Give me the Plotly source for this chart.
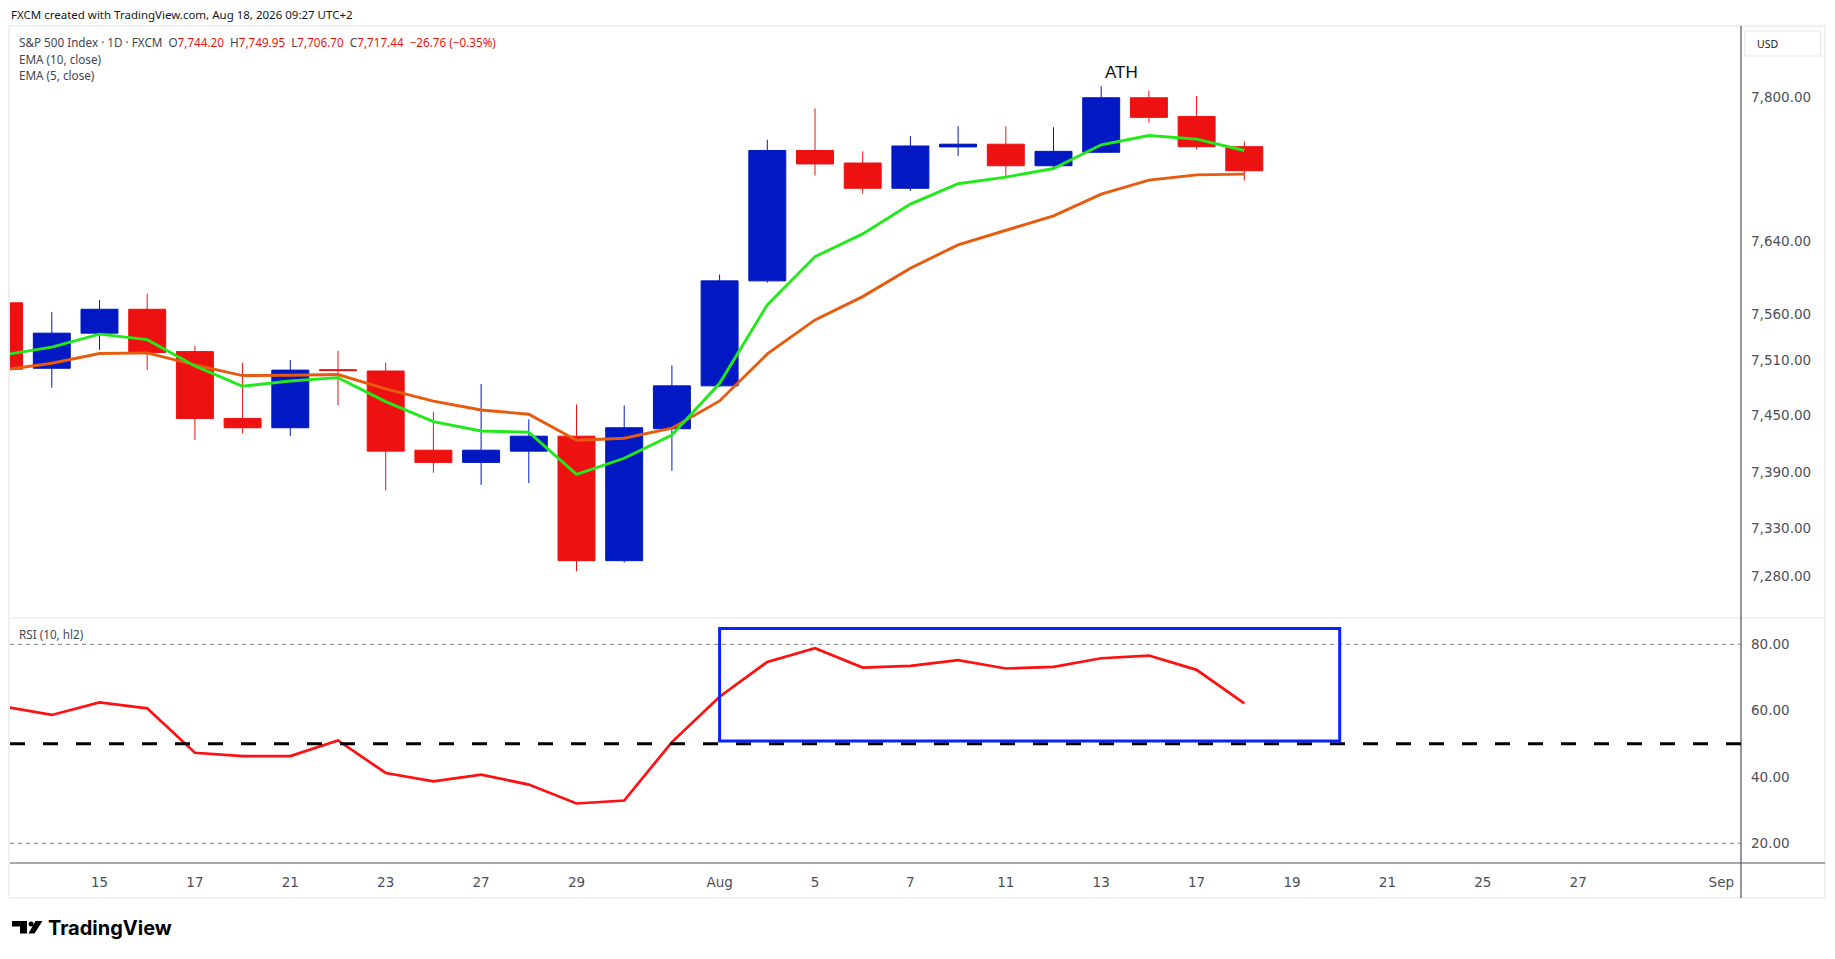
import math
import plotly.graph_objects as go

# ---------------- data ----------------
trading_days = [
    "2026-07-13", "2026-07-14", "2026-07-15", "2026-07-16", "2026-07-17",
    "2026-07-20", "2026-07-21", "2026-07-22", "2026-07-23", "2026-07-24",
    "2026-07-27", "2026-07-28", "2026-07-29", "2026-07-30", "2026-07-31",
    "2026-08-03", "2026-08-04", "2026-08-05", "2026-08-06", "2026-08-07",
    "2026-08-10", "2026-08-11", "2026-08-12", "2026-08-13", "2026-08-14",
    "2026-08-17", "2026-08-18", "2026-08-19", "2026-08-20", "2026-08-21",
    "2026-08-24", "2026-08-25", "2026-08-26", "2026-08-27", "2026-08-28",
    "2026-08-31", "2026-09-01", "2026-09-02",
]
candle_days = trading_days[:27]

open_prices = [7572, 7501, 7539, 7565, 7519, 7447, 7437, 7499.5, 7498, 7413,
               7400, 7412, 7428, 7296, 7436, 7482, 7596, 7740, 7726, 7698,
               7744, 7747, 7723, 7738, 7799, 7778, 7744.20]
high_prices = [7574, 7562, 7575, 7582, 7525, 7507, 7510, 7520, 7507, 7454,
               7484, 7446, 7462, 7461, 7504, 7603, 7752, 7787, 7739, 7756,
               7767, 7767, 7766, 7812, 7807, 7801, 7749.95]
low_prices = [7499, 7480, 7521, 7499, 7424, 7431, 7428, 7461, 7370, 7389,
              7376, 7378, 7285, 7294, 7391, 7481, 7594, 7712, 7692, 7695,
              7734, 7711, 7721, 7737, 7771, 7741, 7706.70]
close_prices = [7500, 7539, 7565, 7518, 7447, 7437, 7499, 7498.5, 7412, 7400,
                7413, 7428, 7296, 7437, 7482, 7596, 7740, 7725, 7698, 7745,
                7747, 7723, 7739, 7799, 7777, 7744.20, 7717.44]

ema5 = [7515.5, 7523.8, 7537.9, 7532.0, 7503.5, 7481.6, 7487.3, 7490.9, 7465.0, 7443.5,
        7433.6, 7432.2, 7387.3, 7404.4, 7429.3, 7484.8, 7569.8, 7622.6, 7647.6, 7680.4,
        7703.0, 7710.4, 7719.9, 7746.3, 7756.7, 7752.7, 7740.0]
ema10 = [7499.4, 7506.4, 7516.9, 7517.6, 7504.6, 7493.1, 7493.5, 7494.2, 7478.7, 7465.5,
         7456.1, 7451.5, 7423.6, 7425.8, 7436.5, 7465.8, 7516.5, 7553.4, 7578.8, 7609.9,
         7635.5, 7651.2, 7667.5, 7691.5, 7707.0, 7712.9, 7713.7]
rsi10 = [61.2, 58.7, 62.5, 60.7, 47.3, 46.3, 46.3, 51.0, 41.2, 38.7,
         40.7, 37.7, 32.0, 32.9, 50.5, 64.2, 74.7, 78.8, 73.0, 73.5,
         75.2, 72.7, 73.2, 75.8, 76.6, 72.3, 62.2]

tick_days = ["2026-07-15", "2026-07-17", "2026-07-21", "2026-07-23", "2026-07-27",
             "2026-07-29", "2026-08-03", "2026-08-05", "2026-08-07", "2026-08-11",
             "2026-08-13", "2026-08-17", "2026-08-19", "2026-08-21", "2026-08-25",
             "2026-08-27", "2026-09-01"]
tick_labels = ["15", "17", "21", "23", "27", "29", "Aug", "5", "7", "11",
               "13", "17", "19", "21", "25", "27", "Sep"]
cut_tick_day, cut_tick_label = "2026-07-13", "13"   # partly hidden at left edge

price_ticks = [7280, 7330, 7390, 7450, 7510, 7560, 7640, 7800]
rsi_ticks = [20, 40, 60, 80]
rsi_bands = [80, 20]
rsi_mid = 50

box_days = ["2026-08-03", "2026-08-20"]
box_rsi = [50.85, 84.8]
ath_day = "2026-08-13"

# ---------------- style / geometry ----------------
BLUE = "#0019C2"
RED = "#EE1111"
GREEN = "#22EA1A"
ORANGE = "#E85A0E"
AXIS = "#50535E"
TXT = "#4C4F59"
DARK = "#131722"

PAGE_W, PAGE_H = 1835, 959
OFF = 8                       # browser body margin
FIG_W, FIG_H = PAGE_W - 2 * OFF, PAGE_H - 2 * OFF
# plot area in page pixels
PL, PR, PT, PB = 10, 1741, 26, 863
L, R, T, B = PL - OFF, PR - OFF, PT - OFF, PB - OFF
W, H = R - L, B - T
SPLIT = (PB - 618) / H


def px(x):
    """page pixel x -> paper"""
    return (x - PL) / W


def py(y):
    """page pixel y -> paper"""
    return (PB - y) / H


idx = {d: i for i, d in enumerate(trading_days)}
xc = [idx[d] for d in candle_days]

fig = go.Figure()
fig.add_trace(go.Candlestick(
    x=xc, open=open_prices, high=high_prices, low=low_prices, close=close_prices,
    increasing=dict(line=dict(color=BLUE, width=1), fillcolor=BLUE),
    decreasing=dict(line=dict(color=RED, width=1), fillcolor=RED),
    whiskerwidth=0, xaxis="x", yaxis="y", showlegend=False,
))
fig.add_trace(go.Scatter(x=xc, y=ema10, mode="lines", line=dict(color=ORANGE, width=2.9),
                         xaxis="x", yaxis="y", showlegend=False))
fig.add_trace(go.Scatter(x=xc, y=ema5, mode="lines", line=dict(color=GREEN, width=2.9),
                         xaxis="x", yaxis="y", showlegend=False))
fig.add_trace(go.Scatter(x=xc, y=rsi10, mode="lines", line=dict(color="#FF1010", width=2.7),
                         xaxis="x2", yaxis="y2", showlegend=False))

x_lo = 2 + (PL - 99.5) / 47.7
x_hi = 2 + (PR - 99.5) / 47.7

tick_font = dict(family="DejaVu Sans", size=13.5, color=TXT)

fig.update_layout(
    width=FIG_W, height=FIG_H,
    margin=dict(l=L, r=FIG_W - R, t=T, b=FIG_H - B, pad=0),
    paper_bgcolor="white", plot_bgcolor="white", showlegend=False,
    boxgap=0.225, boxgroupgap=0,
    xaxis=dict(domain=[0, 1], anchor="y", range=[x_lo, x_hi], showticklabels=False,
               showgrid=False, zeroline=False, showline=False, ticks="",
               rangeslider=dict(visible=False)),
    yaxis=dict(domain=[SPLIT, 1], anchor="x", type="log", side="right",
               range=[math.log10(7236), math.log10(7880)],
               tickvals=price_ticks, ticktext=[f"{v:,.2f}" for v in price_ticks],
               showgrid=False, zeroline=False, showline=False, ticks="",
               ticklabelstandoff=9, tickfont=tick_font),
    xaxis2=dict(domain=[0, 1], anchor="y2", matches="x", range=[x_lo, x_hi],
                tickvals=[idx[d] for d in tick_days], ticktext=tick_labels,
                showgrid=False, zeroline=False, showline=False, ticks="",
                ticklabelstandoff=9, tickfont=tick_font),
    yaxis2=dict(domain=[0, SPLIT], anchor="x2", side="right", range=[14.06, 87.93],
                tickvals=rsi_ticks, ticktext=[f"{v:.2f}" for v in rsi_ticks],
                showgrid=False, zeroline=False, showline=False, ticks="",
                ticklabelstandoff=9, tickfont=tick_font),
)

shapes = []
# outer frame
shapes.append(dict(type="rect", xref="paper", yref="paper", x0=px(9), x1=px(1825),
                   y0=py(898), y1=py(26), line=dict(color="#EEF0F4", width=2), layer="below"))
# pane separator
shapes.append(dict(type="line", xref="paper", yref="paper", x0=px(10), x1=px(1825),
                   y0=py(618), y1=py(618), line=dict(color="#E0E3EB", width=1)))
# time axis top border
shapes.append(dict(type="line", xref="paper", yref="paper", x0=px(10), x1=px(1825),
                   y0=0, y1=0, line=dict(color=AXIS, width=1.2)))
# price axis vertical line
shapes.append(dict(type="line", xref="paper", yref="paper", x0=1, x1=1,
                   y0=py(898), y1=py(26), line=dict(color=AXIS, width=1.2)))
# RSI bands
for lvl in rsi_bands:
    shapes.append(dict(type="line", xref="paper", yref="y2", x0=0, x1=1, y0=lvl, y1=lvl,
                       line=dict(color="#787B86", width=1, dash="4px,4px")))
shapes.append(dict(type="line", xref="paper", yref="y2", x0=0, x1=1, y0=rsi_mid, y1=rsi_mid,
                   line=dict(color="#000000", width=3, dash="15px,18px")))
# RSI highlight box
shapes.append(dict(type="rect", xref="x2", yref="y2", x0=idx[box_days[0]], x1=idx[box_days[1]],
                   y0=box_rsi[0], y1=box_rsi[1], line=dict(color="#0A22FF", width=3)))
# last price dotted line
last_log = math.log10(close_prices[-1])
shapes.append(dict(type="line", xref="paper", yref="y", x0=0, x1=1, y0=last_log, y1=last_log,
                   line=dict(color=RED, width=1, dash="1px,2px")))
# last price label box
shapes.append(dict(type="rect", xref="paper", yref="y", ysizemode="pixel", yanchor=last_log,
                   x0=px(1742), x1=px(1821), y0=-11.5, y1=11.5,
                   fillcolor=RED, line=dict(width=0)))
# USD box
shapes.append(dict(type="rect", xref="paper", yref="paper", x0=px(1745), x1=px(1820.5),
                   y0=py(56), y1=py(31), fillcolor="white",
                   line=dict(color="#E6E8EE", width=1.2)))
# TradingView logo mark
logo_T = [(12, 921), (27, 921), (27, 933.5), (20, 933.5), (20, 926.5), (12, 926.5)]
logo_S = [(35.5, 921), (42.5, 921), (34.5, 933.5), (28.5, 933.5)]
for poly in (logo_T, logo_S):
    path = "M " + " L ".join(f"{px(a):.6f},{py(b):.6f}" for a, b in poly) + " Z"
    shapes.append(dict(type="path", xref="paper", yref="paper", path=path,
                       fillcolor="#000000", line=dict(width=0)))
shapes.append(dict(type="circle", xref="paper", yref="paper", x0=px(28.6), x1=px(33.6),
                   y0=py(926.5), y1=py(921.5), fillcolor="#000000", line=dict(width=0)))
fig.update_layout(shapes=shapes)

legend_font = dict(family="Noto Sans", size=11.7, color="#434651")
chg = close_prices[-1] - open_prices[-1]
pct = chg / open_prices[-1] * 100
sp = "\u00a0\u00a0"
red = lambda s: f"<span style='color:{RED}'>{s}</span>"
head = ("S&P 500 Index · 1D · FXCM" + sp +
        "O" + red(f"{open_prices[-1]:,.2f}") + sp +
        "H" + red(f"{high_prices[-1]:,.2f}") + sp +
        "L" + red(f"{low_prices[-1]:,.2f}") + sp +
        "C" + red(f"{close_prices[-1]:,.2f}") + sp +
        red(f"\u2212{abs(chg):.2f} (\u2212{abs(pct):.2f}%)"))

annotations = [
    dict(text="FXCM created with TradingView.com, Aug 18, 2026 09:27 UTC+2",
         xref="paper", yref="paper", x=px(9), y=py(14), xanchor="left", yanchor="middle",
         showarrow=False, font=dict(family="Noto Sans", size=11.5, color=DARK)),
    dict(text=head, xref="paper", yref="paper", x=px(17), y=py(42.3), xanchor="left",
         yanchor="middle", showarrow=False, font=legend_font),
    dict(text="EMA (10, close)", xref="paper", yref="paper", x=px(17), y=py(59.3),
         xanchor="left", yanchor="middle", showarrow=False, font=legend_font),
    dict(text="EMA (5, close)", xref="paper", yref="paper", x=px(17), y=py(75.5),
         xanchor="left", yanchor="middle", showarrow=False, font=legend_font),
    dict(text="RSI (10, hl2)", xref="paper", yref="paper", x=px(17), y=py(634.3),
         xanchor="left", yanchor="middle", showarrow=False, font=legend_font),
    dict(text="USD", xref="paper", yref="paper", x=px(1755), y=py(44), xanchor="left",
         yanchor="middle", showarrow=False, font=dict(family="Noto Sans", size=10.5, color=DARK)),
    dict(text=f"<b>{close_prices[-1]:,.2f}</b>", xref="paper", yref="y", x=px(1781.5),
         y=last_log, xanchor="center", yanchor="middle", showarrow=False,
         font=dict(family="DejaVu Sans", size=13.5, color="white")),
    dict(text="ATH", xref="x", yref="y", x=idx[ath_day],
         y=math.log10(high_prices[candle_days.index(ath_day)]), yshift=14, xshift=20,
         xanchor="center", yanchor="middle", showarrow=False,
         font=dict(family="Liberation Sans", size=17, color="#111111")),
    dict(text="<b>TradingView</b>", xref="paper", yref="paper", x=px(46), y=py(928),
         xanchor="left", yanchor="middle", showarrow=False,
         font=dict(family="Inter", size=20, color="#000000")),
    dict(text=cut_tick_label, xref="x2", yref="paper", x=idx[cut_tick_day], y=py(881),
         xanchor="center", yanchor="middle", showarrow=False, font=tick_font),
]
fig.update_layout(annotations=annotations)

fig.write_html("out.html")
